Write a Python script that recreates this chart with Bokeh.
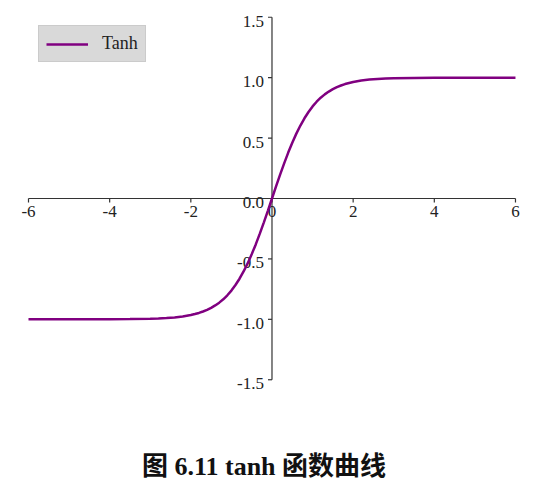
import math
from bokeh.plotting import figure
from bokeh.models import Range1d, Legend, LegendItem
from bokeh.core.properties import value
from bokeh.embed import file_html
from bokeh.resources import INLINE

# ---- data ----
x_vals = [-6, -5, -4, -3.5, -3, -2.8, -2.6, -2.4, -2.2, -2.0, -1.9, -1.8, -1.7, -1.6, -1.5,
          -1.4, -1.3, -1.2, -1.1, -1.0, -0.9, -0.8, -0.7, -0.6, -0.5, -0.4, -0.3, -0.2, -0.1,
          0.0, 0.1, 0.2, 0.3, 0.4, 0.5, 0.6, 0.7, 0.8, 0.9, 1.0, 1.1, 1.2, 1.3, 1.4, 1.5,
          1.6, 1.7, 1.8, 1.9, 2.0, 2.2, 2.4, 2.6, 2.8, 3, 3.5, 4, 5, 6]
tanh_vals = [-1.000, -1.000, -0.999, -0.998, -0.995, -0.993, -0.989, -0.984, -0.976, -0.964,
             -0.956, -0.947, -0.935, -0.922, -0.905, -0.885, -0.862, -0.834, -0.801, -0.762,
             -0.716, -0.664, -0.604, -0.537, -0.462, -0.380, -0.291, -0.197, -0.100,
             0.000, 0.100, 0.197, 0.291, 0.380, 0.462, 0.537, 0.604, 0.664, 0.716, 0.762,
             0.801, 0.834, 0.862, 0.885, 0.905, 0.922, 0.935, 0.947, 0.956, 0.964, 0.976,
             0.984, 0.989, 0.993, 0.995, 0.998, 0.999, 1.000, 1.000]
x_ticks = [-6, -4, -2, 0, 2, 4, 6]
x_tick_labels = ["-6", "-4", "-2", "0", "2", "4", "6"]
y_ticks = [-1.5, -1.0, -0.5, 0.0, 0.5, 1.0, 1.5]
y_tick_labels = ["-1.5", "-1.0", "-0.5", "0.0", "0.5", "1.0", "1.5"]
series_name = "Tanh"
caption = "图 6.11 tanh 函数曲线"

SERIF = value("Liberation Serif")
AXIS_COLOR = "#333333"

p = figure(width=540, height=490, output_backend="svg", toolbar_location=None,
           x_axis_location=None, y_axis_location=None,
           x_range=Range1d(-6.690, 6.6166), y_range=Range1d(-2.4166, 1.6387),
           min_border=0, outline_line_color=None)
p.grid.visible = False
p.background_fill_color = "white"
p.border_fill_color = "white"

# axis lines through the origin
p.segment(x0=[x_ticks[0]], y0=[0], x1=[x_ticks[-1]], y1=[0], line_color=AXIS_COLOR, line_width=1.2)
p.segment(x0=[0], y0=[y_ticks[0]], x1=[0], y1=[y_ticks[-1]], line_color=AXIS_COLOR, line_width=1.2)

# ticks (outward)
p.ray(x=x_ticks, y=[0] * len(x_ticks), length=4, length_units="screen", angle=-math.pi / 2,
      line_color=AXIS_COLOR, line_width=1.2)
p.ray(x=[0] * len(y_ticks), y=y_ticks, length=4, length_units="screen", angle=math.pi,
      line_color=AXIS_COLOR, line_width=1.2)

# tick labels
p.text(x=x_ticks, y=[0] * len(x_ticks), text=x_tick_labels, text_align="center",
       text_baseline="alphabetic", y_offset=13, text_font=SERIF, text_font_size="17px",
       text_color="#222222")
p.text(x=[0] * len(y_ticks), y=y_ticks, text=y_tick_labels, text_align="right",
       text_baseline="alphabetic", x_offset=-8, y_offset=4, text_font=SERIF,
       text_font_size="17px", text_color="#222222")

# curve
line = p.line(x_vals, tanh_vals, line_color="#800080", line_width=2.5)

legend = Legend(items=[LegendItem(label=series_name, renderers=[line])],
                location=(38, 428), background_fill_color="#d9d9d9", background_fill_alpha=1.0,
                border_line_color="#bdbdbd", border_line_width=1,
                label_text_font="Liberation Serif", label_text_font_size="18px",
                label_text_color="#222222",
                glyph_width=42, glyph_height=20, label_standoff=14, padding=7, spacing=0,
                margin=0)
p.add_layout(legend)

# caption
p.text(x=[-0.197], y=[-2.218], text=[caption], text_align="center", text_baseline="middle",
       text_font=value("'Liberation Serif', 'Noto Sans CJK SC'"), text_font_size="26px",
       text_font_style="bold", text_color="#111111")

open("out.html", "w").write(file_html(p, INLINE))
